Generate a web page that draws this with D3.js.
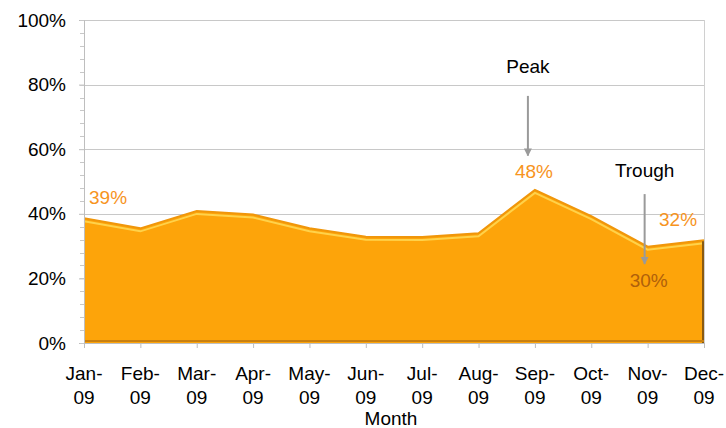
<!DOCTYPE html>
<html>
<head>
<meta charset="utf-8">
<script src="https://cdn.jsdelivr.net/npm/d3@7"></script>
<style>
  body { margin: 0; background: #fff; }
  text { font-family: "Liberation Sans", Arial, sans-serif; }
</style>
</head>
<body>
<div id="chart"></div>
<script>
// Data
var months = ["Jan-09", "Feb-09", "Mar-09", "Apr-09", "May-09", "Jun-09",
              "Jul-09", "Aug-09", "Sep-09", "Oct-09", "Nov-09", "Dec-09"];
var values = [0.386, 0.355, 0.409, 0.398, 0.355, 0.329,
              0.328, 0.340, 0.474, 0.393, 0.298, 0.318];
var yTicks = [0, 0.2, 0.4, 0.6, 0.8, 1.0];
var labelled = [
    { i: 0, text: "39%", color: "#F7941D", dx: 5, dy: -14 },
    { i: 8, text: "48%", color: "#F7941D", dx: -20, dy: -12 },
    { i: 10, text: "30%", color: "#B0600A", dx: -18, dy: 40 },
    { i: 11, text: "32%", color: "#F7941D", dx: -45, dy: -14 }
];
var callouts = [
    { i: 8, text: "Peak", dx: -7, textY: 0.837, from: 0.765, to: 0.58 },
    { i: 10, text: "Trough", dx: -3, textY: 0.514, from: 0.461, to: 0.245 }
];

var width = 726, height = 428;
var fontSize = 19;
// plot area edges (note: "top" is reserved on window)
var pLeft = 84, pRight = 704, pTop = 20, pBottom = 343;

var svg = d3.select("#chart").append("svg")
    .attr("width", width)
    .attr("height", height);

var x = d3.scalePoint().domain(months).range([pLeft, pRight]);
var y = d3.scaleLinear().domain([0, 1]).range([pBottom, pTop]);

// gridlines
svg.append("g").selectAll("line")
    .data(yTicks.slice(1))
    .enter().append("line")
    .attr("x1", pLeft).attr("x2", pRight)
    .attr("y1", function (d) { return Math.round(y(d)) + 0.5; })
    .attr("y2", function (d) { return Math.round(y(d)) + 0.5; })
    .attr("stroke", "#C8C8C8").attr("stroke-width", 1);

// right border
svg.append("line")
    .attr("x1", pRight + 0.5).attr("x2", pRight + 0.5)
    .attr("y1", pTop).attr("y2", pBottom)
    .attr("stroke", "#D0D0D0");

// area
var area = d3.area()
    .x(function (d, i) { return x(months[i]); })
    .y0(y(0))
    .y1(function (d) { return y(d); });

var line = d3.line()
    .x(function (d, i) { return x(months[i]); })
    .y(function (d) { return y(d); });

svg.append("path")
    .datum(values)
    .attr("d", area)
    .attr("fill", "#FDA40A");

// top edge and highlight
svg.append("path")
    .datum(values)
    .attr("d", line)
    .attr("fill", "none")
    .attr("stroke", "#F0960A")
    .attr("stroke-width", 2);

svg.append("path")
    .datum(values)
    .attr("d", line)
    .attr("transform", "translate(0,3)")
    .attr("fill", "none")
    .attr("stroke", "#FFD24A")
    .attr("stroke-width", 2);

// bevel shading at right and bottom
svg.append("line")
    .attr("x1", pRight - 1).attr("x2", pRight - 1)
    .attr("y1", y(values[values.length - 1]) + 1).attr("y2", pBottom)
    .attr("stroke", "#8A5A10").attr("stroke-width", 2);
svg.append("line")
    .attr("x1", pLeft).attr("x2", pRight)
    .attr("y1", pBottom - 2).attr("y2", pBottom - 2)
    .attr("stroke", "#C98010").attr("stroke-width", 2);

// y axis
var yAxis = d3.axisLeft(y)
    .tickValues(yTicks)
    .tickFormat(d3.format(".0%"))
    .tickSize(5)
    .tickPadding(13);

var gy = svg.append("g")
    .attr("transform", "translate(" + pLeft + ",0)")
    .call(yAxis);
gy.select(".domain").attr("stroke", "#BEBEBE");
gy.selectAll(".tick line").attr("stroke", "#BEBEBE");
gy.selectAll(".tick text")
    .attr("font-size", fontSize)
    .attr("fill", "#000")
    .style("font-family", "Liberation Sans, Arial, sans-serif");

// minor ticks
svg.append("g").selectAll("line")
    .data(d3.range(0, 1.0001, 0.04))
    .enter().append("line")
    .attr("x1", pLeft - 4).attr("x2", pLeft)
    .attr("y1", function (d) { return Math.round(y(d)) + 0.5; })
    .attr("y2", function (d) { return Math.round(y(d)) + 0.5; })
    .attr("stroke", "#C8C8C8");

// x axis
var gx = svg.append("g")
    .attr("transform", "translate(0," + pBottom + ")")
    .call(d3.axisBottom(x).tickSize(5).tickFormat(""));
gx.select(".domain").attr("stroke", "#BEBEBE");
gx.selectAll(".tick line").attr("stroke", "#BEBEBE");

var xl = svg.append("g").selectAll("text")
    .data(months)
    .enter().append("text")
    .attr("text-anchor", "middle")
    .attr("font-size", fontSize)
    .attr("fill", "#000");
xl.append("tspan")
    .attr("x", function (d) { return x(d); })
    .attr("y", 380)
    .text(function (d) { return d.split("-")[0] + "-"; });
xl.append("tspan")
    .attr("x", function (d) { return x(d); })
    .attr("y", 404)
    .text(function (d) { return d.split("-")[1]; });

svg.append("text")
    .attr("x", 391)
    .attr("y", 425)
    .attr("text-anchor", "middle")
    .attr("font-size", fontSize)
    .text("Month");

// data labels
svg.append("g").selectAll("text")
    .data(labelled)
    .enter().append("text")
    .attr("x", function (d) { return x(months[d.i]) + d.dx; })
    .attr("y", function (d) { return y(values[d.i]) + d.dy; })
    .attr("font-size", fontSize)
    .attr("fill", function (d) { return d.color; })
    .text(function (d) { return d.text; });

// callouts with arrows
svg.append("defs").append("marker")
    .attr("id", "arrow")
    .attr("viewBox", "0 0 10 10")
    .attr("refX", 9).attr("refY", 5)
    .attr("markerWidth", 4).attr("markerHeight", 4)
    .attr("orient", "auto")
    .append("path")
    .attr("d", "M0,0 L10,5 L0,10 z")
    .attr("fill", "#9A9A9A");

callouts.forEach(function (c) {
    var cx = x(months[c.i]) + c.dx;
    svg.append("text")
        .attr("x", cx)
        .attr("y", y(c.textY))
        .attr("text-anchor", "middle")
        .attr("font-size", fontSize)
        .attr("fill", "#000")
        .text(c.text);
    svg.append("line")
        .attr("x1", cx).attr("x2", cx)
        .attr("y1", y(c.from)).attr("y2", y(c.to))
        .attr("stroke", "#9A9A9A")
        .attr("stroke-width", 2)
        .attr("marker-end", "url(#arrow)");
});
</script>
</body>
</html>
